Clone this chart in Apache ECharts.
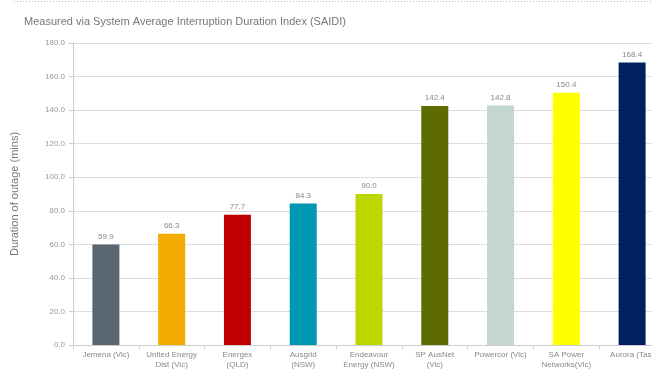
<!DOCTYPE html>
<html>
<head>
<meta charset="utf-8">
<script src="https://cdn.jsdelivr.net/npm/echarts@6/dist/echarts.min.js"></script>
<style>
html,body{margin:0;padding:0;background:#fff;}
#chart{width:652px;height:376px;}
</style>
</head>
<body>
<div id="chart"></div>
<script>
// distributors and their SAIDI minutes
const categories = [
    'Jemena (Vic)', 'United Energy\nDist (Vic)', 'Energex\n(QLD)', 'Ausgrid\n(NSW)',
    'Endeavour\nEnergy (NSW)', 'SP AusNet\n(Vic)', 'Powercor (Vic)', 'SA Power\nNetworks(Vic)', 'Aurora (Tas)'
];
const values = [59.9, 66.3, 77.7, 84.3, 90.0, 142.4, 142.8, 150.4, 168.4];
const barColors = ['#5a6770', '#f2ac00', '#c00000', '#0097b2', '#bdd600', '#5e6b00', '#c3d6d2', '#ffff00', '#002060'];

const chart = echarts.init(document.getElementById('chart'));
chart.setOption({
    animation: false,
    textStyle: {fontFamily: 'Liberation Sans, Arial, sans-serif'},
    graphic: [{
        type: 'line',
        shape: {x1: 14, y1: 1.5, x2: 652, y2: 1.5},
        style: {stroke: '#bbb', lineWidth: 1, lineDash: [1, 2]}
    }],
    title: {
        text: 'Measured via System Average Interruption Duration Index (SAIDI)',
        left: 19, top: 11,
        textStyle: {fontSize: 11, fontWeight: 'normal', color: '#777'}
    },
    // plot runs past the right edge, last label gets cut like the original
    grid: {left: 73, right: -13, top: 43, bottom: 31, outerBoundsMode: 'none', containLabel: false},
    xAxis: {
        type: 'category',
        data: categories,
        axisLine: {lineStyle: {color: '#ccc'}},
        axisTick: {show: true, alignWithLabel: false, length: 4, lineStyle: {color: '#ccc'}},
        axisLabel: {interval: 0, fontSize: 8, color: '#888', lineHeight: 10, margin: 5, hideOverlap: false}
    },
    yAxis: {
        type: 'value',
        min: 0, max: 180, interval: 20,
        name: 'Duration of outage (mins)',
        nameLocation: 'middle',
        nameGap: 53,
        nameTextStyle: {fontSize: 11, color: '#777'},
        axisLine: {show: true, lineStyle: {color: '#ccc'}},
        axisTick: {show: true, length: 4, lineStyle: {color: '#ccc'}},
        axisLabel: {fontSize: 8, color: '#999', formatter: v => v.toFixed(1)},
        splitLine: {lineStyle: {color: '#ddd'}}
    },
    series: [{
        type: 'bar',
        data: values.map((v, i) => ({value: v, itemStyle: {color: barColors[i]}})),
        barWidth: 27,
        label: {
            show: true, position: 'top', fontSize: 8, color: '#888', distance: 4,
            formatter: p => p.value.toFixed(1)
        }
    }]
});
</script>
</body>
</html>
